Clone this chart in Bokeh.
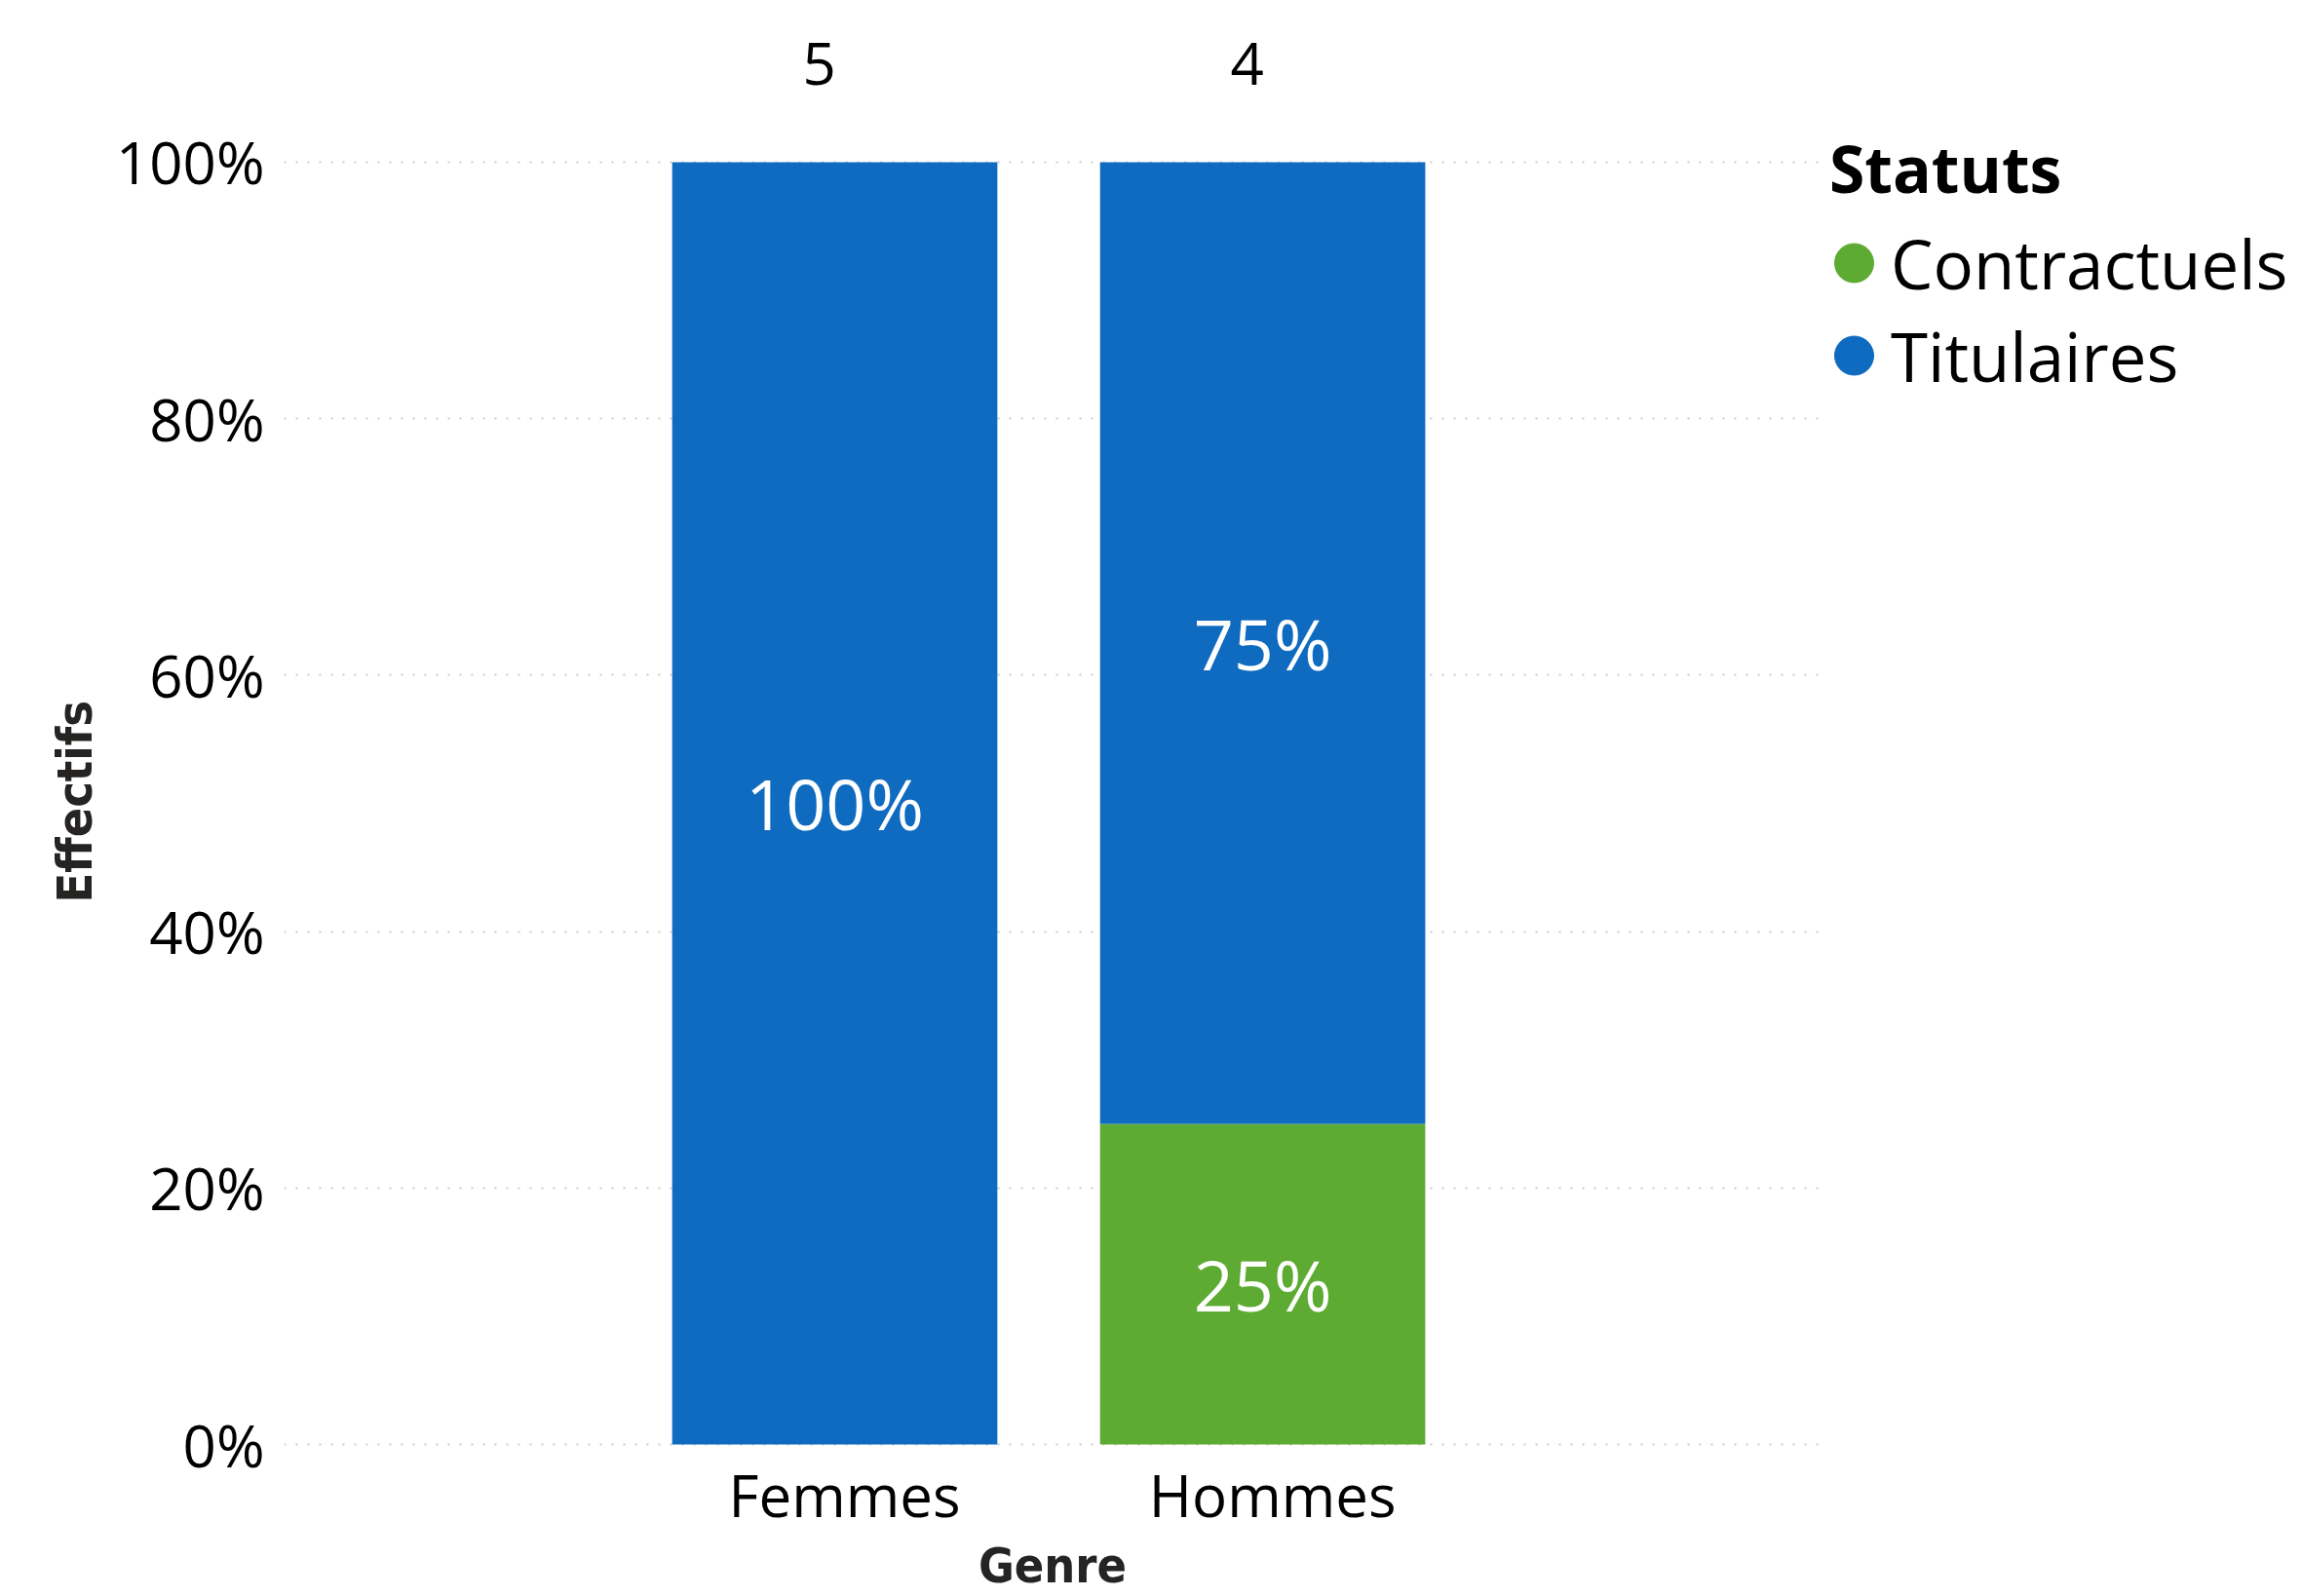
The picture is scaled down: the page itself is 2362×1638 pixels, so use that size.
from bokeh.plotting import figure
from bokeh.layouts import row
from bokeh.models import (ColumnDataSource, Range1d, FixedTicker, NumeralTickFormatter,
                          LinearAxis, Legend, LegendItem, Title)
from bokeh.core.properties import value
from bokeh.embed import file_html
from bokeh.resources import INLINE

# ---- data ----
categories = ["Femmes", "Hommes"]
contractuels = [0, 1]
titulaires = [5, 3]
statuts = ["Contractuels", "Titulaires"]
colors = ["#5DAB32", "#0F6BC0"]
y_ticks = [0, 0.2, 0.4, 0.6, 0.8, 1.0]

totals = [c + t for c, t in zip(contractuels, titulaires)]
pos = list(range(len(categories)))
c_pct = [c / t for c, t in zip(contractuels, totals)]
t_pct = [x / t for x, t in zip(titulaires, totals)]

src = ColumnDataSource(dict(x=pos, Contractuels=c_pct, Titulaires=t_pct))

W, H = 2360, 1638
MAIN_W = 1868
FRAME_TOP = 110
X0, X1 = -1.287, 2.305
TITLE_FONT = "DejaVu Sans Condensed, DejaVu Sans"

p = figure(width=MAIN_W, height=H, output_backend="svg", toolbar_location=None,
           x_range=Range1d(X0, X1), y_range=Range1d(-0.00303, 1.04246),
           min_border_left=291, min_border_right=0, min_border_top=FRAME_TOP,
           min_border_bottom=H - 1489)
p.background_fill_color = "white"
p.border_fill_color = "white"
p.outline_line_color = None

# shifted ranges for the category labels and the totals (label placement only)
p.extra_x_ranges = {"cats": Range1d(X0 - 0.023, X1 - 0.023),
                    "tots": Range1d(X0 + 0.036, X1 + 0.036)}

p.vbar_stack(statuts, x="x", width=0.76, fill_color=colors, line_color=None, source=src)

# labels inside bars
lx, ly, lt = [], [], []
for i in pos:
    base = 0.0
    for pct in (c_pct[i], t_pct[i]):
        if pct > 0:
            lx.append(i)
            ly.append(base + pct / 2)
            lt.append(f"{round(pct * 100)}%")
        base += pct
p.text(x=lx, y=ly, text=lt, text_color="white", text_font=value("Open Sans"),
       text_font_size="72px", text_align="center", text_baseline="middle")

# axes
p.yaxis.ticker = FixedTicker(ticks=y_ticks)
p.yaxis.formatter = NumeralTickFormatter(format="0%")
p.xaxis.visible = False
xax = LinearAxis(x_range_name="cats", ticker=FixedTicker(ticks=pos),
                 major_label_overrides={i: c for i, c in zip(pos, categories)})
p.add_layout(xax, "below")
tax = LinearAxis(x_range_name="tots", ticker=FixedTicker(ticks=pos),
                 major_label_overrides={i: str(t) for i, t in zip(pos, totals)})
p.add_layout(tax, "above")

for ax in (xax, tax, p.yaxis[0]):
    ax.axis_line_color = None
    ax.major_tick_line_color = None
    ax.minor_tick_line_color = None
    ax.major_tick_out = 0
    ax.major_tick_in = 0
    ax.major_label_text_font = "Open Sans"
    ax.major_label_text_color = "black"
    ax.axis_label_text_font = TITLE_FONT
    ax.axis_label_text_font_style = "bold"
    ax.axis_label_text_color = "#252423"
p.yaxis.major_label_text_font_size = "60px"
xax.major_label_text_font_size = "60px"
tax.major_label_text_font_size = "60px"
p.yaxis.major_label_standoff = 20
xax.major_label_standoff = 6
tax.major_label_standoff = FRAME_TOP - 18 - 68
xax.axis_label = "Genre"
xax.axis_label_text_font_size = "50px"
xax.axis_label_standoff = 0

# y-axis title, placed over the 0-100% span
p.add_layout(Title(text="Effectifs", align="left", offset=560, standoff=20,
                   text_font=TITLE_FONT, text_font_style="bold",
                   text_font_size="50px", text_color="#252423"), "left")

p.xgrid.grid_line_color = None
p.ygrid.grid_line_color = "#CCCCCC"
p.ygrid.grid_line_width = 2
p.ygrid.grid_line_dash = "2 10"

# legend panel (separate figure to the right); its ranges exclude the data so the
# proxy glyphs only show in the legend
lg = figure(width=W - MAIN_W, height=H, output_backend="svg", toolbar_location=None,
            x_range=Range1d(10, 11), y_range=Range1d(10, 11),
            x_axis_type=None, y_axis_type=None,
            min_border_left=0, min_border_right=0, min_border_top=0, min_border_bottom=0)
lg.outline_line_color = None
lg.grid.visible = False
lg.background_fill_color = "white"
lg.border_fill_color = "white"

items = []
for s, col in zip(statuts, colors):
    r = lg.ellipse(x="x", y=s, source=src, width=10, height=10,
                   width_units="screen", height_units="screen",
                   fill_color=col, line_color=col)
    items.append(LegendItem(label=s, renderers=[r]))
legend = Legend(items=items, title="Statuts", location=(9, 1074),
                title_text_font="Open Sans", title_text_font_style="bold",
                title_text_font_size="66px", title_text_color="black",
                label_text_font="Open Sans", label_text_font_size="69px",
                label_text_color="black",
                glyph_width=50, glyph_height=95, label_standoff=13, label_height=95,
                padding=0, spacing=0, margin=0, title_standoff=5,
                click_policy="none",
                border_line_color=None, background_fill_alpha=0)
lg.add_layout(legend)

layout = row(p, lg, spacing=0)
open("out.html", "w").write(file_html(layout, INLINE))
